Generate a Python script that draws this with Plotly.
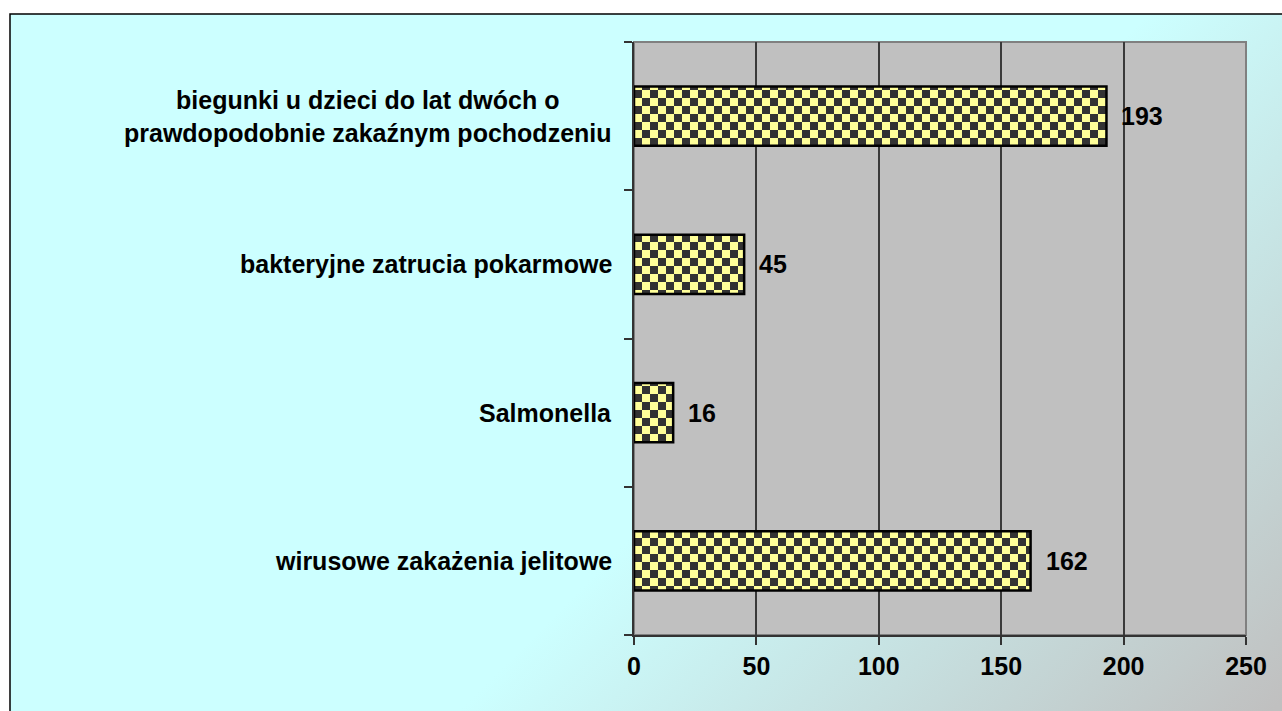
import base64
import plotly.graph_objects as go

# dane (kolejność od dołu do góry)
kategorie = ['wirusowe zakażenia jelitowe', 'Salmonella', 'bakteryjne zatrucia pokarmowe',
             'biegunki u dzieci do lat dwóch o prawdopodobnie zakaźnym pochodzeniu']
etykiety = ['wirusowe zakażenia jelitowe', 'Salmonella', 'bakteryjne zatrucia pokarmowe',
            'biegunki u dzieci do lat dwóch o<br>prawdopodobnie zakaźnym pochodzeniu']
wartosci = [162, 16, 45, 193]
x_ticks = [0, 50, 100, 150, 200, 250]

W, H = 1282, 711
L, R, T, B = 634, 1246, 42, 635
FONT = 'Liberation Sans, Arial, sans-serif'
FS = 25


def px_x(p):
    return (p - L) / (R - L)


def px_y(p):
    return (B - p) / (B - T)


# tlo z gradientem (cyjan -> szary)
svg = ('<svg xmlns="http://www.w3.org/2000/svg" width="1272" height="697" '
       'viewBox="0 0 1272 697" preserveAspectRatio="none">'
       '<defs><linearGradient id="g" gradientUnits="userSpaceOnUse" x1="560" y1="560" x2="960" y2="960">'
       '<stop offset="0" stop-color="#CCFFFF"/><stop offset="1" stop-color="#C0C0C0"/>'
       '</linearGradient></defs><rect width="1272" height="697" fill="url(#g)"/></svg>')
bg_src = 'data:image/svg+xml;base64,' + base64.b64encode(svg.encode()).decode()

fig = go.Figure()
fig.add_trace(go.Bar(
    x=wartosci, y=kategorie, orientation='h', width=0.4,
    marker=dict(color='#FFFF99', line=dict(color='black', width=2.5),
                pattern=dict(shape='+', bgcolor='#FFFF99', fgcolor='#333333',
                             size=16, solidity=0.5, fillmode='replace')),
    hoverinfo='x+y', showlegend=False,
))

ann = []
for k, e in zip(kategorie, etykiety):
    ann.append(dict(x=0, xref='paper', y=k, yref='y', text=e, showarrow=False,
                    xanchor='right', xshift=-20, align='center',
                    font=dict(family=FONT, size=FS, color='black', weight='bold')))
for k, v in zip(kategorie, wartosci):
    ann.append(dict(x=v, xref='x', y=k, yref='y', text=str(v), showarrow=False,
                    xanchor='left', xshift=13,
                    font=dict(family=FONT, size=FS, color='black', weight='bold')))

fig.update_layout(
    width=W, height=H,
    margin=dict(l=L, r=W - R, t=T, b=H - B),
    paper_bgcolor='white', plot_bgcolor='#C0C0C0',
    font=dict(family=FONT, color='black'),
    images=[dict(source=bg_src, xref='paper', yref='paper',
                 x=px_x(10), y=px_y(14),
                 sizex=(W - 10 + 20) / (R - L), sizey=(H - 14 + 20) / (B - T),
                 xanchor='left', yanchor='top', sizing='stretch', layer='below')],
    shapes=[
        dict(type='rect', xref='paper', yref='paper', x0=0, x1=1, y0=0, y1=1,
             fillcolor='#C0C0C0', line=dict(color='#808080', width=2), layer='below'),
        dict(type='rect', xref='paper', yref='paper', x0=px_x(10), x1=px_x(W + 20),
             y0=px_y(H + 20), y1=px_y(14), line=dict(color='black', width=1.5), layer='below'),
    ],
    annotations=ann,
    xaxis=dict(range=[0, 250], tickvals=x_ticks, showgrid=True, gridcolor='#3a3a3a', gridwidth=1.5,
               zeroline=False, showline=True, linecolor='#333333', linewidth=2,
               ticks='outside', ticklen=8, tickcolor='#333333', tickwidth=1.5,
               tickfont=dict(family=FONT, size=FS, color='black', weight='bold')),
    yaxis=dict(categoryorder='array', categoryarray=kategorie, showticklabels=False,
               showgrid=False, zeroline=False, showline=True, linecolor='#333333', linewidth=2,
               ticks='outside', ticklen=8, tickcolor='#333333', tickwidth=1.5,
               tickson='boundaries'),
)

# wzór szachownicy na słupkach
post = """
document.body.style.margin = '0';
var gd = document.getElementById('{plot_id}');
var ns = 'http://www.w3.org/2000/svg';
gd.querySelectorAll('pattern').forEach(function(p) {
  p.setAttribute('width', '16px');
  p.setAttribute('height', '16px');
  while (p.firstChild) p.removeChild(p.firstChild);
  [[0, 0, 16, 16, '#FFFF99'], [0, 0, 8, 8, '#333333'], [8, 8, 8, 8, '#333333']].forEach(function(r) {
    var e = document.createElementNS(ns, 'rect');
    e.setAttribute('x', r[0]); e.setAttribute('y', r[1]);
    e.setAttribute('width', r[2]); e.setAttribute('height', r[3]);
    e.setAttribute('fill', r[4]);
    p.appendChild(e);
  });
});
"""

fig.write_html('out.html', post_script=post, config={'displayModeBar': False})
